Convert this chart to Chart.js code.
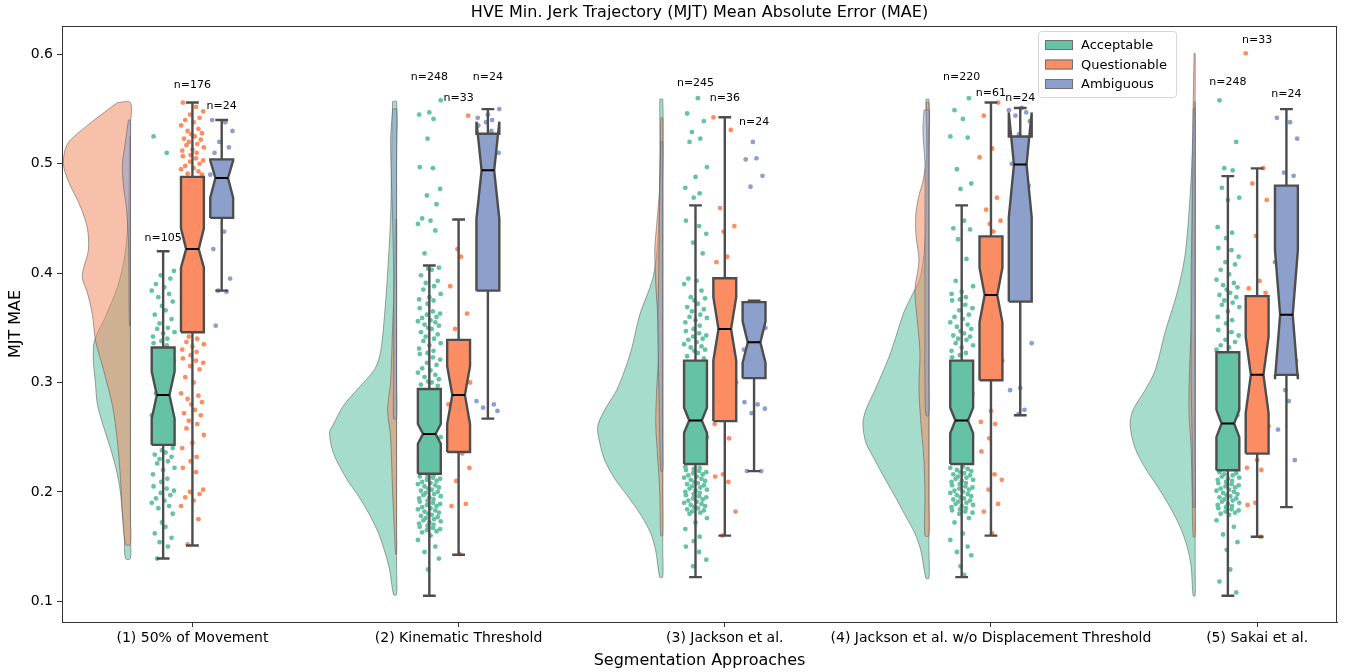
<!DOCTYPE html>
<html>
<head>
<meta charset="utf-8">
<script src="https://cdn.jsdelivr.net/npm/chart.js@4.4.1/dist/chart.umd.min.js"></script>
<style>
  body { margin: 0; background: #fff; }
  canvas { display: block; }
</style>
</head>
<body>
<canvas id="chart" width="1351" height="672"></canvas>
<script>
// ---- data ----
var chartTitle = 'HVE Min. Jerk Trajectory (MJT) Mean Absolute Error (MAE)';
var categories = ['(1) 50% of Movement', '(2) Kinematic Threshold', '(3) Jackson et al.',
                  '(4) Jackson et al. w/o Displacement Threshold', '(5) Sakai et al.'];
var hues = ['Acceptable', 'Questionable', 'Ambiguous'];
var yTicks = [0.1, 0.2, 0.3, 0.4, 0.5, 0.6];

// box stats: [whisker low, q1, notch low, median, notch high, q3, whisker high]
var acceptableStats = [
    [0.139, 0.243, 0.267, 0.2886, 0.310, 0.332, 0.420],
    [0.105, 0.2165, 0.244, 0.253, 0.262, 0.294, 0.407],
    [0.122, 0.2255, 0.254, 0.2653, 0.277, 0.320, 0.462],
    [0.122, 0.2255, 0.2537, 0.2653, 0.277, 0.320, 0.462],
    [0.105, 0.2198, 0.250, 0.2625, 0.275, 0.3277, 0.4887]
];
var questionableStats = [
    [0.151, 0.346, 0.405, 0.422, 0.441, 0.488, 0.556],
    [0.1425, 0.2365, 0.262, 0.2886, 0.315, 0.339, 0.449],
    [0.160, 0.2647, 0.320, 0.349, 0.378, 0.3954, 0.5425],
    [0.160, 0.302, 0.355, 0.380, 0.405, 0.4336, 0.556],
    [0.159, 0.235, 0.272, 0.307, 0.342, 0.379, 0.4958]
];
var ambiguousStats = [
    [0.384, 0.4505, 0.469, 0.487, 0.503, 0.504, 0.540],
    [0.267, 0.384, 0.4495, 0.494, 0.5385, 0.5275, 0.550],
    [0.219, 0.304, 0.318, 0.3367, 0.356, 0.3735, 0.3748],
    [0.270, 0.374, 0.451, 0.4993, 0.547, 0.525, 0.551],
    [0.186, 0.307, 0.303, 0.362, 0.421, 0.480, 0.550]
];

var acceptableN = [105, 248, 245, 220, 248];
var questionableN = [176, 33, 36, 61, 33];
var ambiguousN = [24, 24, 24, 24, 24];
// height of the n= labels (y value)
var acceptableNAt = [0.432, 0.579, 0.574, 0.579, 0.575];
var questionableNAt = [0.572, 0.560, 0.560, 0.565, 0.613];
var ambiguousNAt = [0.553, 0.579, 0.538, 0.560, 0.5635];

// half violins: [y, density] pairs, top to bottom
var acceptableViolin = [
    [[0.525,1],[0.46,2],[0.42,5],[0.39,12],[0.36,25],[0.338,36],[0.32,37],[0.30,35],[0.28,33],[0.26,27],[0.24,20],[0.22,14],[0.20,10],[0.18,8],[0.16,6],[0.139,5]],
    [[0.557,4],[0.50,5],[0.45,6],[0.40,9],[0.362,12],[0.328,16],[0.312,22],[0.295,38],[0.279,53],[0.262,63],[0.254,67],[0.235,63],[0.212,50],[0.196,38],[0.179,27],[0.162,18],[0.146,12],[0.129,7],[0.106,3]],
    [[0.559,3],[0.49,3],[0.428,5],[0.395,10],[0.362,23],[0.328,32],[0.295,45],[0.275,58],[0.26,65],[0.245,63],[0.229,58],[0.212,48],[0.196,35],[0.179,22],[0.162,12],[0.146,7],[0.122,3]],
    [[0.559,3],[0.49,2],[0.428,4],[0.395,9],[0.378,18],[0.362,26],[0.328,38],[0.295,53],[0.275,63],[0.262,66],[0.245,63],[0.229,54],[0.212,44],[0.196,34],[0.179,24],[0.162,14],[0.146,8],[0.121,3]],
    [[0.557,1],[0.524,2],[0.471,5],[0.417,10],[0.382,18],[0.346,30],[0.311,40],[0.293,50],[0.275,62],[0.261,65],[0.24,60],[0.222,50],[0.204,37],[0.186,25],[0.168,15],[0.15,8],[0.132,4],[0.105,2]]
];
var questionableViolin = [
    [[0.556,13],[0.535,43],[0.518,63],[0.50,67],[0.484,62],[0.461,50],[0.441,43],[0.421,42],[0.404,47],[0.395,48],[0.382,43],[0.362,38],[0.339,35],[0.312,27],[0.279,18],[0.246,13],[0.213,10],[0.18,8],[0.152,5]],
    [[0.449,1],[0.40,2],[0.35,4],[0.30,6],[0.275,9],[0.25,6],[0.20,4],[0.16,2],[0.143,1]],
    [[0.542,2],[0.48,3],[0.445,6],[0.421,8],[0.39,7],[0.36,5],[0.33,4],[0.295,6],[0.262,7],[0.23,5],[0.20,3],[0.16,2]],
    [[0.556,3],[0.51,2],[0.484,6],[0.471,10],[0.455,13],[0.435,13],[0.411,10],[0.385,14],[0.36,12],[0.328,9],[0.295,10],[0.262,8],[0.229,5],[0.196,4],[0.16,4]],
    [[0.601,1],[0.55,2],[0.50,2],[0.45,3],[0.40,3],[0.35,4],[0.30,6],[0.27,6],[0.24,4],[0.20,3],[0.159,2]]
];
var ambiguousViolin = [
    [[0.54,2],[0.52,5],[0.50,8],[0.48,7],[0.46,4],[0.43,2],[0.40,1.5],[0.352,1]],
    [[0.55,4],[0.52,6],[0.45,4],[0.40,3],[0.30,3],[0.267,3]],
    [[0.52,2],[0.48,3],[0.40,4],[0.35,5],[0.30,4],[0.25,3],[0.219,2]],
    [[0.549,5],[0.53,6],[0.50,4],[0.45,4],[0.40,4],[0.35,4],[0.30,4],[0.27,3]],
    [[0.55,2],[0.50,3],[0.45,3],[0.40,4],[0.35,4],[0.30,4],[0.25,3],[0.186,2]]
];

// strip points (y values)
var acceptablePoints = [
    [0.525,0.510,0.402,0.398,0.395,0.390,0.387,0.384,0.381,0.378,0.374,0.370,0.366,0.362,0.358,0.354,0.350,0.349,0.346,0.345,0.342,0.340,0.338,0.336,0.334,0.32,0.31,0.30,0.29,0.28,0.27,0.26,0.25,0.240,0.238,0.236,0.234,0.232,0.230,0.228,0.226,0.222,0.220,0.216,0.212,0.209,0.205,0.203,0.201,0.199,0.197,0.194,0.192,0.190,0.187,0.185,0.180,0.172,0.168,0.162,0.158,0.154,0.150,0.139],
    [0.558,0.547,0.545,0.541,0.523,0.497,0.496,0.477,0.471,0.463,0.450,0.448,0.445,0.439,0.418,0.405,0.404,0.403,0.398,0.393,0.391,0.388,0.385,0.381,0.378,0.376,0.375,0.372,0.368,0.365,0.363,0.362,0.360,0.359,0.357,0.356,0.355,0.353,0.352,0.350,0.349,0.346,0.344,0.342,0.340,0.338,0.336,0.334,0.331,0.329,0.327,0.326,0.323,0.321,0.318,0.316,0.313,0.311,0.309,0.307,0.305,0.303,0.301,0.300,0.298,0.297,0.28,0.27,0.26,0.25,0.24,0.23,0.215,0.214,0.214,0.213,0.212,0.211,0.210,0.209,0.208,0.207,0.206,0.205,0.204,0.203,0.202,0.201,0.200,0.199,0.198,0.197,0.196,0.195,0.194,0.193,0.192,0.191,0.190,0.189,0.188,0.187,0.186,0.185,0.184,0.183,0.182,0.181,0.180,0.179,0.178,0.177,0.176,0.175,0.174,0.173,0.172,0.171,0.170,0.169,0.168,0.167,0.166,0.165,0.164,0.163,0.160,0.156,0.150,0.145,0.139,0.129],
    [0.560,0.546,0.539,0.529,0.523,0.520,0.497,0.488,0.478,0.473,0.469,0.448,0.443,0.436,0.428,0.418,0.395,0.393,0.390,0.384,0.378,0.377,0.375,0.372,0.369,0.367,0.365,0.362,0.360,0.359,0.357,0.355,0.352,0.349,0.347,0.345,0.343,0.342,0.340,0.339,0.337,0.335,0.333,0.332,0.330,0.329,0.327,0.324,0.322,0.31,0.29,0.27,0.25,0.235,0.223,0.222,0.221,0.220,0.219,0.218,0.217,0.216,0.215,0.214,0.213,0.212,0.211,0.210,0.209,0.208,0.207,0.206,0.205,0.204,0.203,0.202,0.201,0.200,0.199,0.198,0.197,0.196,0.195,0.194,0.193,0.192,0.191,0.190,0.189,0.188,0.187,0.186,0.185,0.184,0.183,0.182,0.181,0.180,0.176,0.172,0.166,0.159,0.155,0.150,0.145,0.138,0.132],
    [0.560,0.549,0.541,0.525,0.524,0.495,0.482,0.477,0.448,0.441,0.440,0.431,0.413,0.393,0.388,0.383,0.381,0.378,0.376,0.375,0.371,0.368,0.366,0.362,0.360,0.358,0.355,0.353,0.351,0.349,0.347,0.345,0.343,0.342,0.340,0.339,0.336,0.334,0.332,0.329,0.327,0.325,0.323,0.31,0.29,0.27,0.25,0.235,0.223,0.222,0.221,0.220,0.219,0.218,0.217,0.216,0.215,0.214,0.213,0.212,0.211,0.210,0.209,0.208,0.207,0.206,0.205,0.204,0.203,0.202,0.201,0.200,0.199,0.198,0.197,0.196,0.195,0.194,0.193,0.192,0.191,0.190,0.189,0.188,0.187,0.186,0.185,0.184,0.183,0.182,0.181,0.180,0.176,0.172,0.162,0.156,0.150,0.145,0.142,0.132,0.124],
    [0.558,0.520,0.496,0.494,0.478,0.469,0.467,0.442,0.437,0.432,0.423,0.421,0.415,0.410,0.408,0.403,0.399,0.394,0.391,0.389,0.387,0.385,0.382,0.380,0.378,0.375,0.373,0.371,0.369,0.365,0.360,0.357,0.354,0.348,0.346,0.343,0.339,0.337,0.334,0.332,0.330,0.31,0.29,0.27,0.25,0.235,0.218,0.217,0.216,0.215,0.214,0.213,0.212,0.211,0.210,0.209,0.208,0.207,0.206,0.205,0.204,0.203,0.202,0.201,0.200,0.199,0.198,0.197,0.196,0.195,0.194,0.193,0.192,0.191,0.190,0.189,0.188,0.187,0.186,0.185,0.184,0.183,0.182,0.181,0.180,0.179,0.174,0.168,0.161,0.154,0.147,0.129,0.118,0.108]
];
var questionablePoints = [
    [0.556,0.552,0.548,0.545,0.542,0.540,0.538,0.535,0.532,0.530,0.528,0.527,0.525,0.523,0.522,0.520,0.518,0.517,0.515,0.513,0.512,0.510,0.508,0.507,0.505,0.503,0.502,0.500,0.498,0.496,0.495,0.493,0.491,0.490,0.46,0.43,0.40,0.37,0.342,0.340,0.337,0.335,0.333,0.330,0.328,0.325,0.322,0.320,0.318,0.315,0.312,0.305,0.300,0.290,0.288,0.285,0.282,0.280,0.275,0.272,0.270,0.265,0.262,0.258,0.252,0.245,0.240,0.232,0.228,0.222,0.218,0.202,0.200,0.198,0.195,0.192,0.187,0.175,0.152],
    [0.544,0.422,0.415,0.388,0.363,0.349,0.33,0.32,0.30,0.29,0.28,0.27,0.26,0.25,0.235,0.222,0.210,0.189,0.187,0.143],
    [0.5425,0.531,0.4595,0.443,0.438,0.415,0.410,0.39,0.37,0.35,0.33,0.30,0.28,0.262,0.249,0.216,0.214,0.209,0.182,0.160],
    [0.556,0.544,0.514,0.506,0.469,0.458,0.448,0.445,0.438,0.42,0.40,0.38,0.36,0.34,0.32,0.274,0.264,0.262,0.249,0.237,0.216,0.211,0.202,0.189,0.182,0.162],
    [0.601,0.496,0.482,0.467,0.434,0.393,0.386,0.382,0.35,0.32,0.29,0.26,0.229,0.222,0.220,0.190,0.188,0.159]
];
var ambiguousPoints = [
    [0.540,0.538,0.530,0.520,0.515,0.510,0.50,0.49,0.48,0.47,0.46,0.455,0.438,0.422,0.395,0.384,0.383,0.352],
    [0.550,0.545,0.542,0.540,0.538,0.535,0.53,0.51,0.48,0.45,0.42,0.40,0.283,0.280,0.277,0.274],
    [0.520,0.505,0.504,0.489,0.479,0.37,0.36,0.35,0.34,0.33,0.32,0.31,0.282,0.280,0.276,0.272,0.219,0.219],
    [0.551,0.549,0.547,0.544,0.539,0.527,0.52,0.50,0.48,0.45,0.42,0.40,0.336,0.295,0.293,0.275,0.271],
    [0.542,0.538,0.523,0.492,0.489,0.47,0.44,0.41,0.38,0.35,0.32,0.293,0.283,0.257,0.229]
];
// fixed strip jitter pattern (fraction of jitter width)
var jitter = [-0.8, 0.3, 0.9, -0.2, 0.6, -0.6, 0.1, -0.95, 0.5, -0.4, 0.8, -0.1, 0.2, -0.7, 0.7, -0.3, 0.4, -0.5, 0.95, 0.0, -0.85, 0.35, -0.15];

// ---- styling / layout ----
var FONT = "'DejaVu Sans', sans-serif";
var colors = ['#66c2a5', '#fc8d62', '#8da0cb'];
var violinFill = ['rgba(102,194,165,0.58)', 'rgba(240,140,100,0.55)', 'rgba(141,160,203,0.55)'];
var hueOffset = [-0.11, 0, 0.11];
var BOX_HW = 0.043;      // half box width, x units
var CAP_HW = 0.024;
var VIOLIN_EDGE = -0.233;
var PX_PER_UNIT = 266;
var JIT_W = 0.045;

var statsByHue = [acceptableStats, questionableStats, ambiguousStats];
var nByHue = [acceptableN, questionableN, ambiguousN];
var nAtByHue = [acceptableNAt, questionableNAt, ambiguousNAt];
var violinByHue = [acceptableViolin, questionableViolin, ambiguousViolin];
var pointsByHue = [acceptablePoints, questionablePoints, ambiguousPoints];

var datasets = [];

hues.forEach(function (hue, h) {
    // violins
    violinByHue[h].forEach(function (profile, c) {
        var edge = c + VIOLIN_EDGE;
        var pts = [];
        profile.forEach(function (p) { pts.push({x: edge - p[1] / PX_PER_UNIT, y: p[0]}); });
        for (var i = profile.length - 1; i >= 0; i--) pts.push({x: edge, y: profile[i][0]});
        pts.push({x: edge - profile[0][1] / PX_PER_UNIT, y: profile[0][0]});
        datasets.push({
            type: 'line', data: pts, fill: 'shape', tension: 0.3,
            backgroundColor: violinFill[h], borderColor: 'rgba(90,90,90,0.55)', borderWidth: 1,
            pointRadius: 0, order: 10 - h
        });
    });

    // strip points
    var strip = [];
    var k = 0;
    pointsByHue[h].forEach(function (vals, c) {
        vals.forEach(function (v) {
            strip.push({x: c + hueOffset[h] + jitter[k % jitter.length] * JIT_W, y: v});
            k++;
        });
    });
    datasets.push({
        type: 'scatter', data: strip, backgroundColor: colors[h], borderWidth: 0,
        pointRadius: 2.4, order: 5
    });

    // whiskers, boxes, medians
    var whisk = [], med = [];
    statsByHue[h].forEach(function (s, c) {
        var cx = c + hueOffset[h];
        var L = cx - BOX_HW, R = cx + BOX_HW, wl = cx - BOX_HW * 0.55, wr = cx + BOX_HW * 0.55;
        whisk.push({x: cx, y: s[1]}, {x: cx, y: s[0]}, {x: cx, y: null},
                   {x: cx - CAP_HW, y: s[0]}, {x: cx + CAP_HW, y: s[0]}, {x: cx, y: null},
                   {x: cx, y: s[5]}, {x: cx, y: s[6]}, {x: cx, y: null},
                   {x: cx - CAP_HW, y: s[6]}, {x: cx + CAP_HW, y: s[6]}, {x: cx, y: null});
        med.push({x: wl, y: s[3]}, {x: wr, y: s[3]}, {x: cx, y: null});
        datasets.push({
            type: 'line', fill: 'shape', tension: 0,
            data: [{x: L, y: s[1]}, {x: L, y: s[2]}, {x: wl, y: s[3]}, {x: L, y: s[4]}, {x: L, y: s[5]},
                   {x: R, y: s[5]}, {x: R, y: s[4]}, {x: wr, y: s[3]}, {x: R, y: s[2]}, {x: R, y: s[1]},
                   {x: L, y: s[1]}],
            backgroundColor: colors[h], borderColor: '#4d4d4d', borderWidth: 2.4,
            pointRadius: 0, order: 2
        });
    });
    datasets.push({type: 'line', data: whisk, borderColor: '#4d4d4d', borderWidth: 2.4,
                   pointRadius: 0, spanGaps: false, fill: false, order: 3});
    datasets.push({type: 'line', data: med, borderColor: '#000', borderWidth: 2,
                   pointRadius: 0, spanGaps: false, fill: false, order: 1});
});

var extras = {
    id: 'extras',
    afterDatasetsDraw: function (chart) {
        var ctx = chart.ctx, xs = chart.scales.x, ys = chart.scales.y, ca = chart.chartArea;
        ctx.save();
        // top/right spines
        ctx.strokeStyle = '#333';
        ctx.lineWidth = 1;
        ctx.strokeRect(ca.left + 0.5, ca.top + 0.5, ca.right - ca.left - 1, ca.bottom - ca.top);
        // title, centred over the plot area like matplotlib
        ctx.fillStyle = '#000';
        ctx.font = '16px ' + FONT;
        ctx.textAlign = 'center';
        ctx.textBaseline = 'middle';
        ctx.fillText(chartTitle, (ca.left + ca.right) / 2, ca.top - 13);
        // n= labels
        ctx.font = '11px ' + FONT;
        hues.forEach(function (hue, h) {
            nByHue[h].forEach(function (n, c) {
                ctx.fillText('n=' + n, xs.getPixelForValue(c + hueOffset[h]), ys.getPixelForValue(nAtByHue[h][c]));
            });
        });
        // legend
        var lx = ca.right - 299, ly = ca.top + 5, lw = 138, lh = 66;
        ctx.fillStyle = 'rgba(255,255,255,0.85)';
        ctx.strokeStyle = '#d6d6d6';
        ctx.beginPath();
        ctx.roundRect(lx + 0.5, ly + 0.5, lw, lh, 3);
        ctx.fill();
        ctx.stroke();
        ctx.font = '13px ' + FONT;
        ctx.textAlign = 'left';
        hues.forEach(function (hue, h) {
            var cy = ly + 14 + h * 19.5;
            ctx.fillStyle = colors[h];
            ctx.fillRect(lx + 7, cy - 5, 28, 10);
            ctx.strokeStyle = '#707070';
            ctx.strokeRect(lx + 7.5, cy - 4.5, 27, 9);
            ctx.fillStyle = '#000';
            ctx.fillText(hue, lx + 43, cy + 1);
        });
        ctx.restore();
    }
};

new Chart(document.getElementById('chart'), {
    type: 'scatter',
    data: {datasets: datasets},
    plugins: [extras],
    options: {
        responsive: false,
        animation: false,
        devicePixelRatio: 1,
        layout: {padding: {right: 14, top: 26}},
        plugins: {
            legend: {display: false},
            tooltip: {enabled: false},
            title: {display: false}
        },
        scales: {
            x: {
                type: 'linear', min: -0.49, max: 4.30,
                afterBuildTicks: function (s) { s.ticks = categories.map(function (c, i) { return {value: i}; }); },
                afterFit: function (s) { s.height = 50; },
                ticks: {
                    color: '#000', font: {family: FONT, size: 14}, padding: 3, maxRotation: 0,
                    autoSkip: false,
                    callback: function (v) { return categories[v]; }
                },
                grid: {display: true, drawOnChartArea: false, drawTicks: true, tickLength: 5, color: '#333'},
                border: {display: true, color: '#333'},
                title: {display: true, text: 'Segmentation Approaches', color: '#000',
                        font: {family: FONT, size: 16}, padding: {top: 0, bottom: 2}}
            },
            y: {
                min: 0.081, max: 0.626,
                afterBuildTicks: function (s) { s.ticks = yTicks.map(function (v) { return {value: v}; }); },
                afterFit: function (s) { s.width = 62; },
                ticks: {
                    color: '#000', font: {family: FONT, size: 14}, padding: 4,
                    callback: function (v) { return v.toFixed(1); }
                },
                grid: {display: true, drawOnChartArea: false, drawTicks: true, tickLength: 5, color: '#333'},
                border: {display: true, color: '#333'},
                title: {display: true, text: 'MJT MAE', color: '#000',
                        font: {family: FONT, size: 16}, padding: {top: 6, bottom: 0}}
            }
        }
    }
});
</script>
</body>
</html>
